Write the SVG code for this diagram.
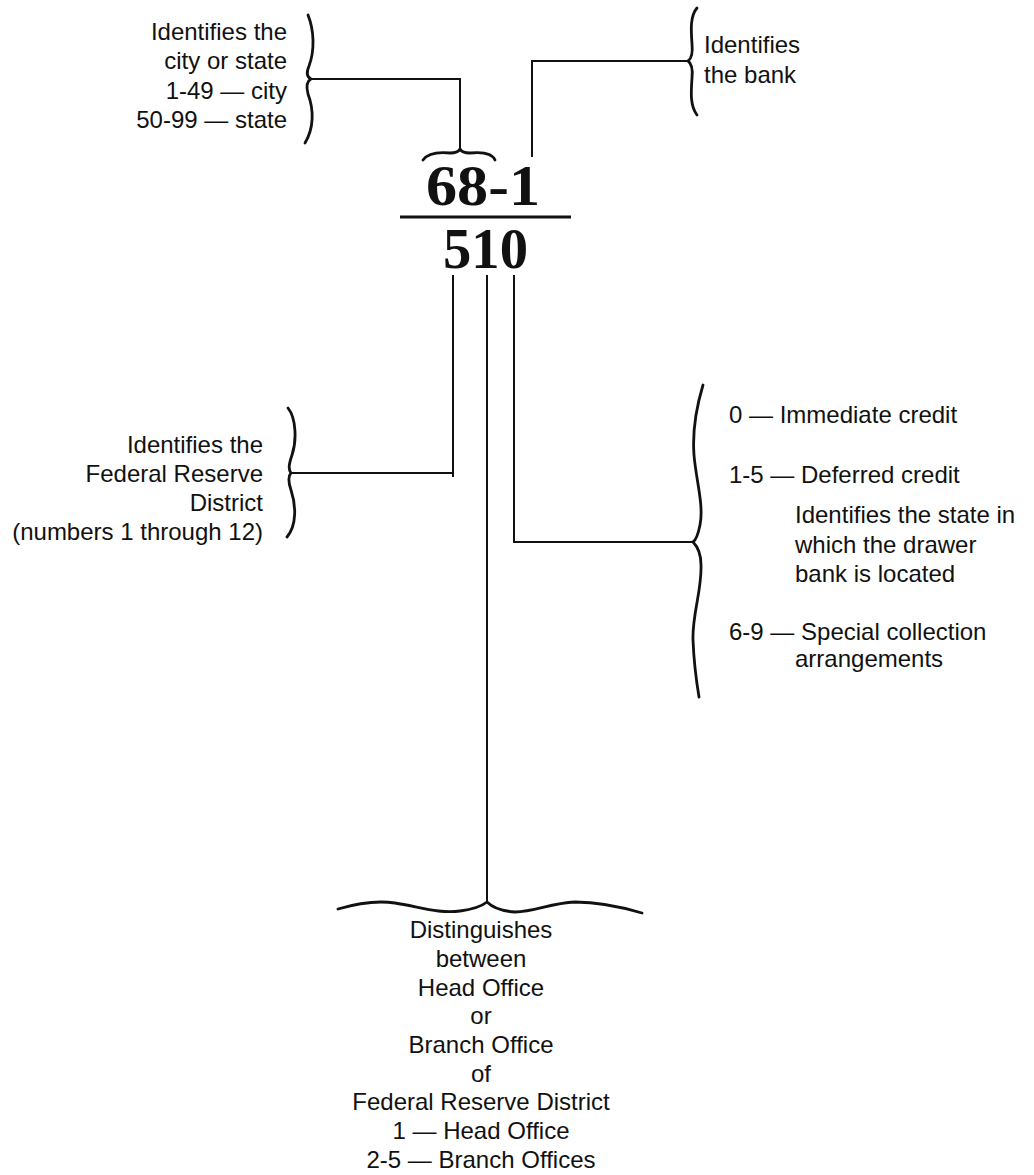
<svg xmlns="http://www.w3.org/2000/svg" width="1034" height="1175" viewBox="0 0 1034 1175">
<style>
.t{font-family:"Liberation Sans",Arial,sans-serif;font-size:24px;fill:#111}
.r{text-anchor:end}
.m{text-anchor:middle}
.num{font-family:"Liberation Serif","Times New Roman",serif;font-weight:bold;font-size:56px;fill:#111}
.ln{fill:none;stroke:#111;stroke-width:2}
.br{fill:none;stroke:#111;stroke-width:2.8;stroke-linecap:round;stroke-linejoin:round}
</style>
<rect width="1034" height="1175" fill="#fff"/>
<g id="number">
<text class="num" x="426" y="205" textLength="114" lengthAdjust="spacingAndGlyphs">68-1</text>
<line x1="400" y1="217" x2="571" y2="217" stroke="#111" stroke-width="3"/>
<text class="num" x="443" y="268" textLength="85" lengthAdjust="spacingAndGlyphs">510</text>
</g>
<g id="city-state">
<text class="t r" x="287" y="40">Identifies the</text>
<text class="t r" x="287" y="69">city or state</text>
<text class="t r" x="287" y="99">1-49 — city</text>
<text class="t r" x="287" y="128">50-99 — state</text>
<path class="br" d="M308,15 C314,30 315,50 309,66 C306,73 307,77 311,79 C307,81 306,86 308,94 C314,110 314,128 305,143"/>
<path class="br" d="M423,160 C428,153 440,152 450,153 C456,153 459,151 460,149 C461,151 464,153 470,153 C480,152 492,153 495,160"/>
</g>
<g id="bank">
<text class="t" x="704" y="53">Identifies</text>
<text class="t" x="704" y="83">the bank</text>
<path class="br" d="M697,8 C690,16 691,30 692,44 C693,54 691,59 688,61 C691,63 693,68 692,78 C691,92 690,106 697,115"/>
</g>
<g id="district">
<text class="t r" x="263" y="453">Identifies the</text>
<text class="t r" x="263" y="482">Federal Reserve</text>
<text class="t r" x="263" y="511">District</text>
<text class="t r" x="263" y="540">(numbers 1 through 12)</text>
<path class="br" d="M288,408 C296,418 297,440 292,455 C289,464 288,469 291,473 C288,476 288,481 291,490 C296,505 297,525 287,537"/>
</g>
<g id="credit">
<text class="t" x="729" y="423">0 — Immediate credit</text>
<text class="t" x="729" y="483">1-5 — Deferred credit</text>
<text class="t" x="795" y="523">Identifies the state in</text>
<text class="t" x="795" y="553">which the drawer</text>
<text class="t" x="795" y="582">bank is located</text>
<text class="t" x="729" y="640">6-9 — Special collection</text>
<text class="t" x="795" y="667">arrangements</text>
<path class="br" d="M703,385 C697,405 692,428 694,455 C696,480 704,505 700,525 C698,535 696,540 693,542 C697,546 701,553 701,565 C702,590 692,615 693,640 C694,665 697,685 699,697"/>
</g>
<g id="office">
<path class="br" d="M338,909 C355,904 375,900 395,903 C420,907 440,914 460,911 C475,909 482,906 487,902 C492,907 500,911 515,912 C535,912 550,903 575,902 C600,902 625,908 642,913"/>
<text class="t m" x="481" y="938">Distinguishes</text>
<text class="t m" x="481" y="967">between</text>
<text class="t m" x="481" y="996">Head Office</text>
<text class="t m" x="481" y="1024">or</text>
<text class="t m" x="481" y="1053">Branch Office</text>
<text class="t m" x="481" y="1082">of</text>
<text class="t m" x="481" y="1110">Federal Reserve District</text>
<text class="t m" x="481" y="1139">1 — Head Office</text>
<text class="t m" x="481" y="1168">2-5 — Branch Offices</text>
</g>
<g id="connectors">
<path class="ln" d="M311,79 H460 V149"/>
<path class="ln" d="M532,157 V61 H688"/>
<path class="ln" d="M291,473 H453 M453,275 V477"/>
<path class="ln" d="M487,275 V902"/>
<path class="ln" d="M514,275 V543 M513,542 H693"/>
</g>
</svg>
